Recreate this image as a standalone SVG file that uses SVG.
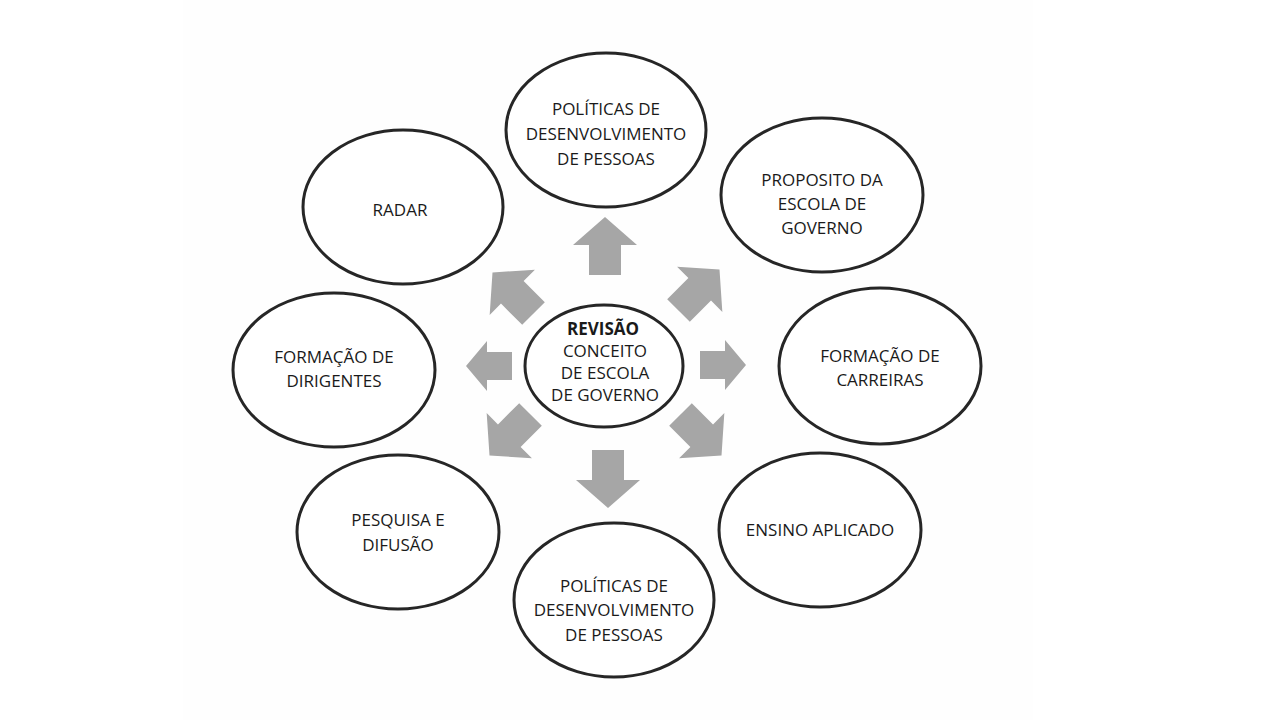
<svg xmlns="http://www.w3.org/2000/svg" width="1280" height="720" viewBox="0 0 1280 720">
<style>
.n{fill:#fff;stroke:#262626;stroke-width:3}
.t{font-family:"Open Sans",sans-serif;font-size:17px;fill:#1a1a1a;text-anchor:middle}
.a{fill:#a6a6a6}
</style>
<defs>
<path id="ar" d="M0,-29 L32,-1 L16,-1 L16,29 L-16,29 L-16,-1 L-32,-1 Z"/>
<path id="ah" d="M0,-23 L25,-2 L14,-2 L14,23 L-14,23 L-14,-2 L-25,-2 Z"/>
</defs>
<rect width="1280" height="720" fill="#fff"/>
<rect x="183" y="0" width="850" height="720" fill="#fefefe"/>
<g id="connectors">
<use href="#ar" class="a" transform="translate(605,246)"/>
<use href="#ar" class="a" transform="translate(699,290) rotate(45)"/>
<use href="#ah" class="a" transform="translate(723,365) rotate(90)"/>
<use href="#ar" class="a" transform="translate(701,435) rotate(135)"/>
<use href="#ar" class="a" transform="translate(608,479) rotate(180)"/>
<use href="#ar" class="a" transform="translate(510,435) rotate(-135)"/>
<use href="#ah" class="a" transform="translate(489,366) rotate(-90)"/>
<use href="#ar" class="a" transform="translate(513,293) rotate(-45)"/>
</g>
<g id="center"><ellipse class="n" cx="604" cy="366" rx="79" ry="61"/>
<text class="t" x="603" y="335" font-weight="bold">REVISÃO</text>
<text class="t" x="605" y="357">CONCEITO</text>
<text class="t" x="605" y="379">DE ESCOLA</text>
<text class="t" x="605" y="401">DE GOVERNO</text></g>
<g id="n1"><ellipse class="n" cx="606" cy="130" rx="100" ry="77"/>
<text class="t" x="606" y="115">POLÍTICAS DE</text><text class="t" x="606" y="140">DESENVOLVIMENTO</text><text class="t" x="606" y="165">DE PESSOAS</text></g>
<g id="n2"><ellipse class="n" cx="822" cy="195" rx="101" ry="77"/>
<text class="t" x="822" y="186">PROPOSITO DA</text><text class="t" x="822" y="210">ESCOLA DE</text><text class="t" x="822" y="234">GOVERNO</text></g>
<g id="n3"><ellipse class="n" cx="880" cy="366" rx="101" ry="78"/>
<text class="t" x="880" y="362">FORMAÇÃO DE</text><text class="t" x="880" y="386">CARREIRAS</text></g>
<g id="n4"><ellipse class="n" cx="820" cy="530" rx="101" ry="77"/>
<text class="t" x="820" y="536">ENSINO APLICADO</text></g>
<g id="n5"><ellipse class="n" cx="614" cy="600" rx="100" ry="77"/>
<text class="t" x="614" y="592">POLÍTICAS DE</text><text class="t" x="614" y="616">DESENVOLVIMENTO</text><text class="t" x="614" y="641">DE PESSOAS</text></g>
<g id="n6"><ellipse class="n" cx="398" cy="532" rx="101" ry="77"/>
<text class="t" x="398" y="526">PESQUISA E</text><text class="t" x="398" y="551">DIFUSÃO</text></g>
<g id="n7"><ellipse class="n" cx="334" cy="370" rx="101" ry="77"/>
<text class="t" x="334" y="363">FORMAÇÃO DE</text><text class="t" x="334" y="387">DIRIGENTES</text></g>
<g id="n8"><ellipse class="n" cx="403" cy="207" rx="100" ry="77"/>
<text class="t" x="400" y="216">RADAR</text></g>
</svg>
